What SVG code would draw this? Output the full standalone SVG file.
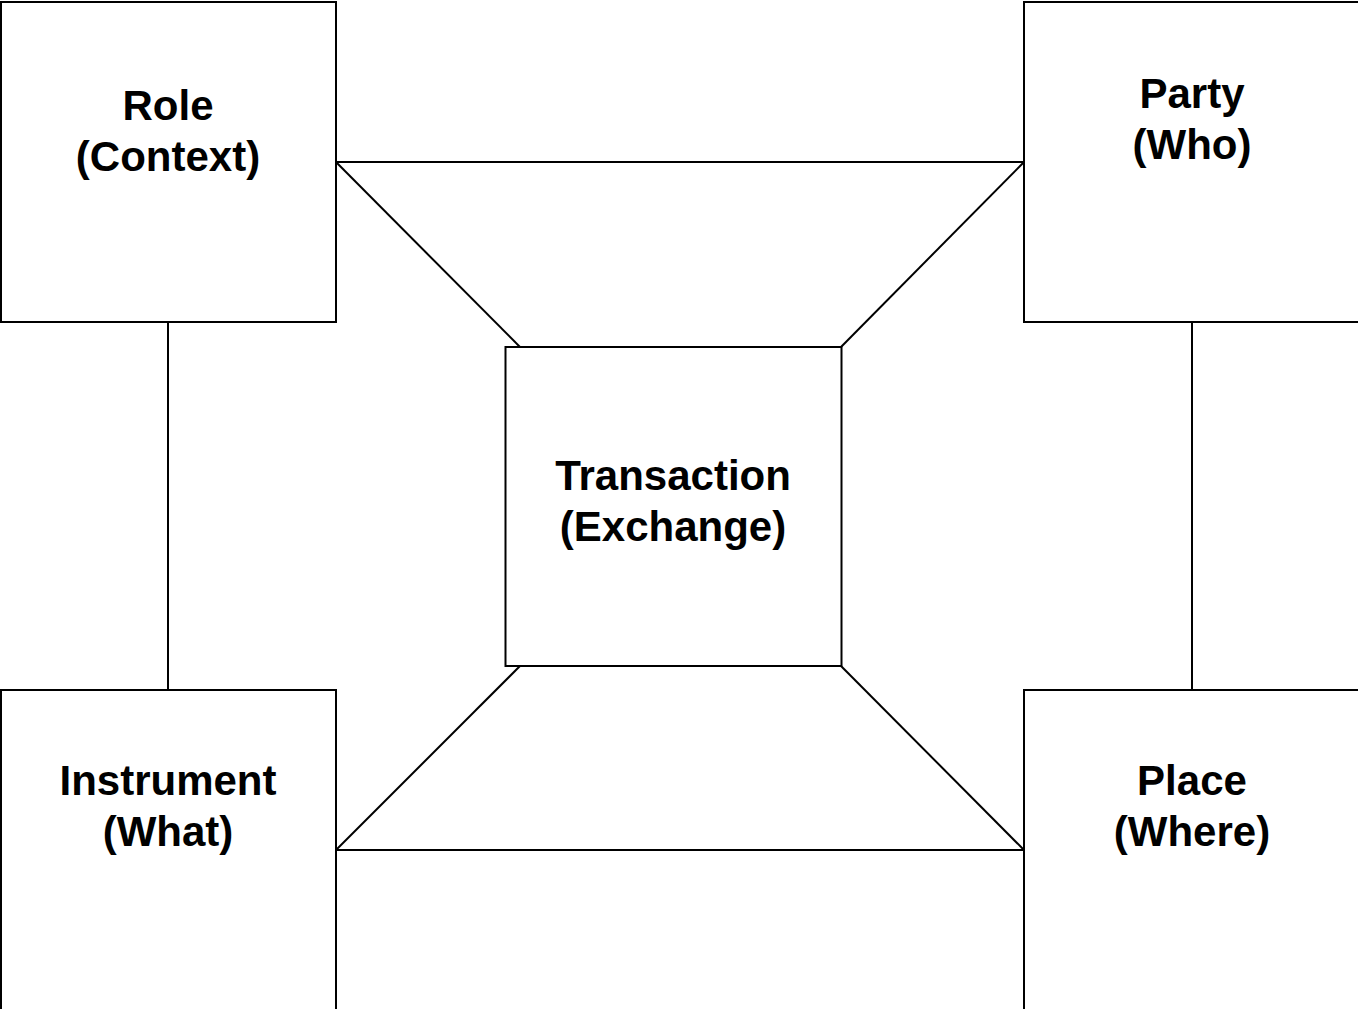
<svg xmlns="http://www.w3.org/2000/svg" width="1358" height="1009" viewBox="0 0 1358 1009">
<style>
.box{fill:#fff;stroke:#000;stroke-width:2}
.ln{fill:none;stroke:#000;stroke-width:2}
.lbl{font-family:"Liberation Sans",Arial,sans-serif;font-weight:bold;font-size:42px;fill:#000;text-anchor:middle}
</style>
<rect width="1358" height="1009" fill="#fff"/>
<g id="connectors">
<line class="ln" x1="336" y1="162" x2="1024" y2="162"/>
<line class="ln" x1="336" y1="850" x2="1024" y2="850"/>
<line class="ln" x1="336" y1="162" x2="520" y2="347"/>
<line class="ln" x1="1024" y1="162" x2="841" y2="347"/>
<line class="ln" x1="520" y1="666" x2="336" y2="850"/>
<line class="ln" x1="841" y1="666" x2="1024" y2="850"/>
<line class="ln" x1="168" y1="322" x2="168" y2="690"/>
<line class="ln" x1="1192" y1="322" x2="1192" y2="690"/>
</g>
<g id="role">
<rect class="box" x="1" y="2" width="335" height="320"/>
<text class="lbl" x="168" y="120">Role</text>
<text class="lbl" x="168" y="171">(Context)</text>
</g>
<g id="party">
<rect class="box" x="1024" y="2" width="340" height="320"/>
<text class="lbl" x="1192" y="108">Party</text>
<text class="lbl" x="1192" y="159">(Who)</text>
</g>
<g id="instrument">
<rect class="box" x="1" y="690" width="335" height="330"/>
<text class="lbl" x="168" y="795">Instrument</text>
<text class="lbl" x="168" y="846">(What)</text>
</g>
<g id="place">
<rect class="box" x="1024" y="690" width="340" height="330"/>
<text class="lbl" x="1192" y="795">Place</text>
<text class="lbl" x="1192" y="846">(Where)</text>
</g>
<g id="transaction">
<rect class="box" x="505.5" y="347" width="336" height="319" stroke="#222"/>
<text class="lbl" x="673" y="490">Transaction</text>
<text class="lbl" x="673" y="541">(Exchange)</text>
</g>
</svg>
